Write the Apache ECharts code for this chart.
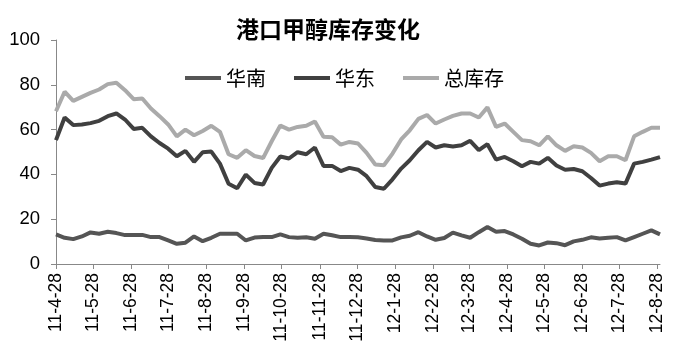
<!DOCTYPE html>
<html>
<head>
<meta charset="utf-8">
<script src="https://cdn.jsdelivr.net/npm/echarts@6/dist/echarts.min.js"></script>
<style>html,body{margin:0;padding:0;background:#fff;}#c{width:675px;height:359px;}</style>
</head>
<body>
<div id="c"></div>
<script>
var dates = [
'2011-04-28','2011-05-05','2011-05-12','2011-05-19','2011-05-26','2011-06-02','2011-06-09','2011-06-16','2011-06-23','2011-06-30',
'2011-07-07','2011-07-14','2011-07-21','2011-07-28','2011-08-04','2011-08-11','2011-08-18','2011-08-25','2011-09-01','2011-09-08',
'2011-09-15','2011-09-22','2011-09-29','2011-10-06','2011-10-13','2011-10-20','2011-10-27','2011-11-03','2011-11-10','2011-11-17',
'2011-11-24','2011-12-01','2011-12-08','2011-12-15','2011-12-22','2011-12-29','2012-01-05','2012-01-12','2012-01-19','2012-01-26',
'2012-02-02','2012-02-09','2012-02-16','2012-02-23','2012-03-01','2012-03-08','2012-03-15','2012-03-22','2012-03-29','2012-04-05',
'2012-04-12','2012-04-19','2012-04-26','2012-05-03','2012-05-10','2012-05-17','2012-05-24','2012-05-31','2012-06-07','2012-06-14',
'2012-06-21','2012-06-28','2012-07-05','2012-07-12','2012-07-19','2012-07-26','2012-08-02','2012-08-09','2012-08-16','2012-08-23',
'2012-08-30'
];
var huanan = [
13.2,11.7,11.1,12.3,14.1,13.5,14.4,13.8,12.9,12.9,
13.0,12.0,12.0,10.5,9.0,9.5,12.3,10.2,11.7,13.5,
13.5,13.5,10.5,11.8,12.0,12.0,13.2,12.0,11.7,11.9,
11.3,13.5,12.8,12.0,12.0,11.9,11.4,10.7,10.5,10.5,
11.9,12.6,14.2,12.3,10.8,11.6,14.0,12.8,11.7,14.2,
16.5,14.4,14.7,13.2,11.3,9.0,8.3,9.6,9.3,8.4,
10.1,10.8,11.9,11.4,11.7,12.0,10.5,12.0,13.5,15.0,
13.2
];
var huadong = [
55.3,65.4,62.0,62.3,62.9,63.9,66.0,67.2,64.5,60.3,
60.8,57.0,54.0,51.5,48.1,50.5,45.6,49.9,50.2,44.8,
35.8,33.8,39.9,36.2,35.5,42.9,48.0,47.1,49.9,49.0,
52.0,43.8,43.8,41.5,42.9,42.1,39.2,34.4,33.6,37.8,
42.6,46.3,50.8,54.5,52.0,53.0,52.5,53.0,55.0,50.8,
53.5,46.6,47.8,45.9,43.6,45.6,44.8,47.4,44.0,42.1,
42.4,41.4,38.4,35.0,35.9,36.5,35.9,44.8,45.6,46.6,
47.7
];
var total = [
68.2,76.9,72.8,74.6,76.4,77.9,80.3,80.9,77.6,73.6,
73.9,69.4,66.0,62.3,57.0,60.0,57.5,59.4,61.7,59.0,
49.0,47.4,50.8,48.2,47.3,54.8,61.8,60.0,61.2,61.7,
63.6,56.8,56.6,53.3,54.5,53.8,49.6,44.4,44.1,49.3,
55.6,59.7,64.8,66.5,62.7,64.5,66.1,67.2,67.2,65.4,
69.9,61.2,62.7,59.0,55.3,54.8,53.0,57.0,53.0,50.5,
52.6,52.0,49.6,45.9,48.1,48.1,46.3,57.0,59.0,60.8,
60.8
];
var tickDates = ['2011-04-28','2011-05-28','2011-06-28','2011-07-28','2011-08-28','2011-09-28','2011-10-28','2011-11-28','2011-12-28',
'2012-01-28','2012-02-28','2012-03-28','2012-04-28','2012-05-28','2012-06-28','2012-07-28','2012-08-28'];
var yTicks = [0,20,40,60,80,100];

var DAY = 86400000;
function dayNum(s){var p=s.split('-');return Math.round(Date.UTC(+p[0],+p[1]-1,+p[2])/DAY);}
function pairs(arr){return arr.map(function(v,i){return [dayNum(dates[i]),v];});}
var tickDays = tickDates.map(dayNum);
function fmt(v){var d=new Date(v*DAY);return String(d.getUTCFullYear()).slice(2)+'-'+(d.getUTCMonth()+1)+'-'+d.getUTCDate();}

var chart = echarts.init(document.getElementById('c'), null, {renderer:'canvas'});
chart.setOption({
  animation:false,
  backgroundColor:'#fff',
  title:{text:'港口甲醇库存变化',left:323,top:13,textAlign:'center',
    textStyle:{fontFamily:'Noto Sans CJK SC',fontWeight:'bold',fontSize:23,color:'#000'}},
  legend:{top:63,left:180,itemWidth:36,itemHeight:4,itemGap:28,icon:'rect',
    textStyle:{fontFamily:'Noto Sans CJK SC',fontSize:20,color:'#000'},
    data:['华南','华东','总库存']},
  grid:{left:56,right:15,top:40,bottom:95,containLabel:false},
  xAxis:{type:'value',min:dayNum(dates[0]),max:dayNum(dates[dates.length-1]),
    axisLine:{lineStyle:{color:'#888',width:1}},
    axisTick:{show:true,length:5,lineStyle:{color:'#888'},customValues:tickDays},
    splitLine:{show:false},
    axisLabel:{customValues:tickDays,rotate:90,margin:9,fontFamily:'Liberation Sans',fontSize:17.5,color:'#000',
      formatter:fmt}},
  yAxis:{type:'value',min:yTicks[0],max:yTicks[yTicks.length-1],interval:20,
    axisLine:{show:true,lineStyle:{color:'#888',width:1}},
    axisTick:{show:true,length:5,lineStyle:{color:'#888'}},
    splitLine:{show:false},
    axisLabel:{margin:16,fontFamily:'Liberation Sans',fontSize:18.5,color:'#000'}},
  series:[
    {name:'华南',type:'line',data:pairs(huanan),showSymbol:false,symbol:'none',lineStyle:{width:4,color:'#555555'},itemStyle:{color:'#555555'}},
    {name:'华东',type:'line',data:pairs(huadong),showSymbol:false,symbol:'none',lineStyle:{width:4,color:'#404040'},itemStyle:{color:'#404040'}},
    {name:'总库存',type:'line',data:pairs(total),showSymbol:false,symbol:'none',lineStyle:{width:4,color:'#aaaaaa'},itemStyle:{color:'#aaaaaa'}}
  ]
});
</script>
</body>
</html>
